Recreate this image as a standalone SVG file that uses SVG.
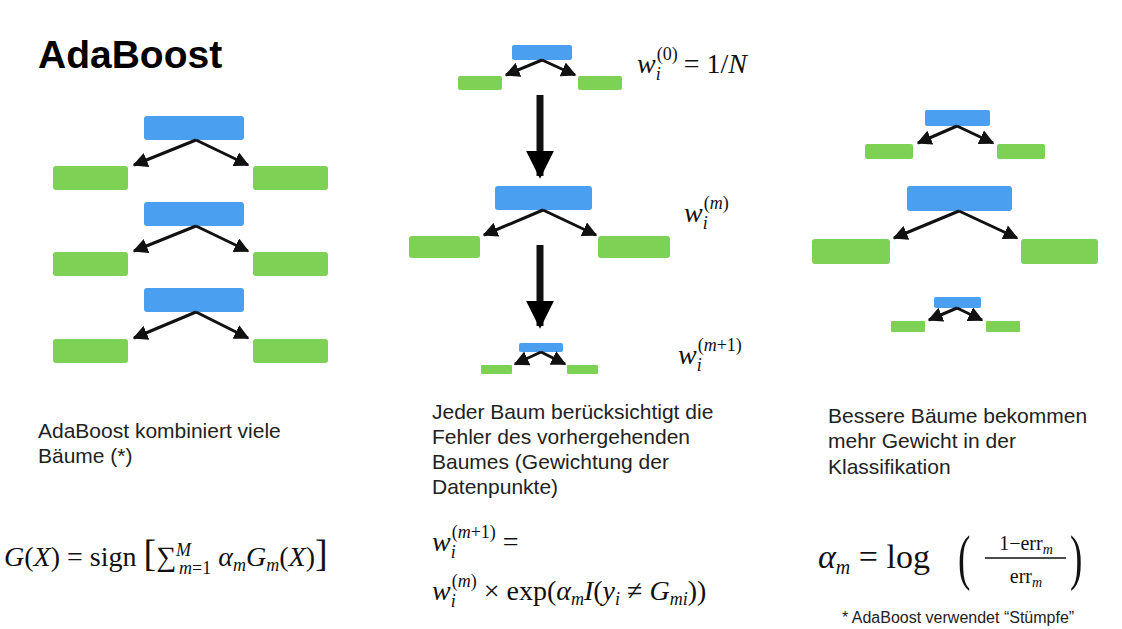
<svg xmlns="http://www.w3.org/2000/svg" width="1122" height="629" viewBox="0 0 1122 629">
<defs>
<style>
.b{fill:#4a9ff0}.g{fill:#7dd155}
.c line{stroke:#111;stroke-width:3;marker-end:url(#ah)}
.t{font-family:"Liberation Sans",Arial,sans-serif;font-size:21px;fill:#222}
.m{font-family:"Liberation Serif","DejaVu Serif",serif;font-size:28px;fill:#111}
.i{font-style:italic}
.s{font-size:18px}
</style>
<marker id="ah" viewBox="0 0 10 10" refX="9" refY="5" markerWidth="5" markerHeight="5" orient="auto"><path d="M0,0L10,5L0,10z" fill="#111"/></marker>
<marker id="big" viewBox="0 0 10 10" refX="9" refY="5" markerWidth="4" markerHeight="4" orient="auto"><path d="M0,0L10,5L0,10z" fill="#000"/></marker>
</defs>
<rect width="1122" height="629" fill="#fff"/>
<text x="38" y="68" font-family="Liberation Sans,Arial,sans-serif" font-size="39" font-weight="bold" fill="#000">AdaBoost</text>
<g id="L1"><rect class="b" x="144" y="116" width="100" height="24" rx="3"/><rect class="g" x="53" y="166" width="75" height="24" rx="3"/><rect class="g" x="253" y="166" width="75" height="24" rx="3"/></g>
<g id="L2"><rect class="b" x="144" y="202" width="100" height="24" rx="3"/><rect class="g" x="53" y="252" width="75" height="24" rx="3"/><rect class="g" x="253" y="252" width="75" height="24" rx="3"/></g>
<g id="L3"><rect class="b" x="144" y="288" width="100" height="24" rx="3"/><rect class="g" x="53" y="339" width="75" height="24" rx="3"/><rect class="g" x="253" y="339" width="75" height="24" rx="3"/></g>
<g id="M1"><rect class="b" x="512" y="45" width="60" height="15" rx="2"/><rect class="g" x="458" y="76" width="44" height="14" rx="2"/><rect class="g" x="578" y="76" width="44" height="14" rx="2"/></g>
<g id="M2"><rect class="b" x="495" y="186" width="97" height="24" rx="3"/><rect class="g" x="409" y="236" width="71" height="22" rx="3"/><rect class="g" x="598" y="236" width="72" height="22" rx="3"/></g>
<g id="M3"><rect class="b" x="519" y="343" width="44" height="9" rx="2"/><rect class="g" x="481" y="365" width="31" height="9" rx="1"/><rect class="g" x="567" y="365" width="31" height="9" rx="1"/></g>
<g id="R1"><rect class="b" x="925" y="110" width="65" height="16" rx="2"/><rect class="g" x="865" y="144" width="48" height="15" rx="2"/><rect class="g" x="997" y="144" width="48" height="15" rx="2"/></g>
<g id="R2"><rect class="b" x="907" y="186" width="105" height="25" rx="3"/><rect class="g" x="812" y="239" width="78" height="25" rx="3"/><rect class="g" x="1021" y="239" width="77" height="25" rx="3"/></g>
<g id="R3"><rect class="b" x="934" y="297" width="47" height="11" rx="2"/><rect class="g" x="891" y="321" width="34" height="11" rx="1"/><rect class="g" x="986" y="321" width="34" height="11" rx="1"/></g>
<g class="c">
<line x1="196" y1="140" x2="134" y2="165"/><line x1="196" y1="140" x2="248" y2="165"/>
<line x1="196" y1="226" x2="134" y2="251"/><line x1="196" y1="226" x2="248" y2="251"/>
<line x1="196" y1="312" x2="134" y2="338"/><line x1="196" y1="312" x2="248" y2="338"/>
<line x1="542" y1="60" x2="506" y2="75"/><line x1="542" y1="60" x2="575" y2="75"/>
<line x1="543" y1="210" x2="484" y2="235"/><line x1="543" y1="210" x2="596" y2="235"/>
<line x1="541" y1="352" x2="515" y2="364"/><line x1="541" y1="352" x2="565" y2="364"/>
<line x1="957" y1="126" x2="918" y2="143"/><line x1="957" y1="126" x2="993" y2="143"/>
<line x1="959" y1="211" x2="894" y2="238"/><line x1="959" y1="211" x2="1017" y2="238"/>
<line x1="957" y1="308" x2="929" y2="320"/><line x1="957" y1="308" x2="982" y2="320"/>
<line x1="540" y1="95" x2="540" y2="176" style="stroke-width:7;marker-end:url(#big)"/>
<line x1="540" y1="245" x2="540" y2="326" style="stroke-width:7;marker-end:url(#big)"/>
</g>
<text class="m" x="637" y="73"><tspan class="i">w</tspan><tspan class="s i" dy="7">i</tspan><tspan class="s" dx="-4" dy="-20">(0)</tspan><tspan dy="13" dx="6">= 1/</tspan><tspan class="i">N</tspan></text>
<text class="m" x="684" y="222"><tspan class="i">w</tspan><tspan class="s i" dy="7">i</tspan><tspan class="s" dx="-4" dy="-20">(<tspan class="i">m</tspan>)</tspan></text>
<text class="m" x="678" y="364"><tspan class="i">w</tspan><tspan class="s i" dy="7">i</tspan><tspan class="s" dx="-4" dy="-20">(<tspan class="i">m</tspan>+1)</tspan></text>
<text class="t" x="38" y="438">AdaBoost kombiniert viele</text>
<text class="t" x="38" y="463">Bäume (*)</text>
<text class="t" x="432" y="419">Jeder Baum berücksichtigt die</text>
<text class="t" x="432" y="444">Fehler des vorhergehenden</text>
<text class="t" x="432" y="469">Baumes (Gewichtung der</text>
<text class="t" x="432" y="494">Datenpunkte)</text>
<text class="t" x="828" y="423">Bessere Bäume bekommen</text>
<text class="t" x="828" y="448">mehr Gewicht in der</text>
<text class="t" x="828" y="474">Klassifikation</text>
<text class="m" x="4" y="566"><tspan class="i">G</tspan>(<tspan class="i">X</tspan>) = sign <tspan style="font-size:38px">[</tspan>∑<tspan class="s i" dy="-10">M</tspan><tspan class="s" dx="-12" dy="18"><tspan class="i">m</tspan>=1</tspan><tspan class="i" dy="-8"> α</tspan><tspan class="s i" dy="5">m</tspan><tspan class="i" dy="-5">G</tspan><tspan class="s i" dy="5">m</tspan><tspan dy="-5">(</tspan><tspan class="i">X</tspan>)<tspan style="font-size:38px">]</tspan></text>
<text class="m" x="432" y="551"><tspan class="i">w</tspan><tspan class="s i" dy="7">i</tspan><tspan class="s" dx="-4" dy="-20">(<tspan class="i">m</tspan>+1)</tspan><tspan dy="13"> =</tspan></text>
<text class="m" x="432" y="600"><tspan class="i">w</tspan><tspan class="s i" dy="7">i</tspan><tspan class="s" dx="-4" dy="-20">(<tspan class="i">m</tspan>)</tspan><tspan dy="13"> × exp(</tspan><tspan class="i">α</tspan><tspan class="s i" dy="5">m</tspan><tspan class="i" dy="-5">I</tspan>(<tspan class="i">y</tspan><tspan class="s i" dy="5">i</tspan><tspan dy="-5"> ≠ </tspan><tspan class="i">G</tspan><tspan class="s i" dy="5">mi</tspan><tspan dy="-5">))</tspan></text>
<text class="m" x="818" y="568" style="font-size:34px"><tspan class="i">α</tspan><tspan class="i" style="font-size:20px" dy="6">m</tspan><tspan dy="-6"> = log</tspan></text>
<text class="m" x="958" y="578" style="font-size:62px" transform="translate(958 578) scale(0.6 1) translate(-958 -578)">(</text>
<text class="m" x="1070" y="578" style="font-size:62px" transform="translate(1070 578) scale(0.6 1) translate(-1070 -578)">)</text>
<text class="m" x="1026" y="550" style="font-size:20px" text-anchor="middle">1−err<tspan class="i" style="font-size:14px" dy="4">m</tspan></text>
<line x1="985" y1="558" x2="1066" y2="558" stroke="#111" stroke-width="1.3"/>
<text class="m" x="1026" y="583" style="font-size:20px" text-anchor="middle">err<tspan class="i" style="font-size:14px" dy="4">m</tspan></text>
<text class="t" x="842" y="623" style="font-size:16px">* AdaBoost verwendet “Stümpfe”</text>
</svg>
